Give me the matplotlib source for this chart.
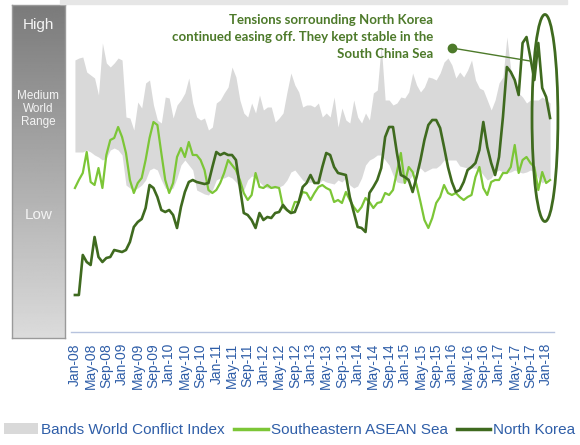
import numpy as np
import pandas as pd
import matplotlib
matplotlib.use("Agg")
import matplotlib.pyplot as plt
from matplotlib.patches import Ellipse, Rectangle, Patch
from matplotlib.lines import Line2D

# monthly index values, Jan-08 .. Feb-18
north_korea = [
    37, 37, 77, 70, 67, 95, 75, 70, 74, 75,
    82, 81, 80, 82, 90, 105, 110, 113, 124, 147,
    144, 135, 122, 120, 122, 117, 104, 125, 140, 150,
    152, 150, 149, 148, 149, 165, 180, 177, 179, 177,
    177, 172, 145, 119, 117, 112, 104, 119, 112, 115,
    114, 119, 120, 127, 122, 119, 120, 130, 145, 149,
    157, 149, 149, 165, 179, 177, 165, 159, 158, 157,
    135, 120, 105, 104, 100, 139, 145, 152, 164, 195,
    205, 205, 179, 157, 155, 152, 140, 155, 172, 192,
    207, 212, 212, 204, 185, 165, 150, 140, 142, 150,
    162, 165, 169, 182, 210, 185, 169, 157, 175, 215,
    265, 260, 252, 237, 289, 295, 274, 252, 289, 244,
    235, 214,
]
asean_sea = [
    144, 152, 159, 180, 150, 147, 164, 144, 177, 192,
    194, 205, 195, 179, 152, 139, 149, 154, 172, 194,
    210, 207, 179, 152, 139, 149, 175, 184, 175, 190,
    177, 177, 172, 162, 142, 139, 142, 149, 159, 172,
    167, 162, 152, 139, 132, 137, 159, 145, 144, 147,
    144, 145, 144, 125, 122, 119, 130, 130, 140, 139,
    132, 139, 145, 147, 144, 142, 130, 132, 129, 140,
    132, 125, 120, 125, 134, 130, 124, 129, 130, 139,
    137, 142, 160, 179, 149, 165, 160, 147, 130, 112,
    104, 114, 129, 135, 147, 139, 137, 139, 135, 132,
    135, 137, 155, 165, 144, 137, 150, 152, 152, 159,
    159, 165, 187, 159, 172, 175, 169, 165, 142, 160,
    149, 152,
]
band_high = [
    272, 274, 275, 260, 257, 254, 237, 289, 269, 265,
    269, 274, 272, 215, 214, 202, 230, 224, 249, 252,
    227, 212, 209, 235, 234, 214, 227, 232, 239, 254,
    229, 215, 212, 214, 202, 205, 229, 232, 239, 245,
    265, 255, 232, 219, 215, 229, 219, 237, 222, 225,
    225, 210, 214, 219, 240, 259, 247, 240, 225, 227,
    227, 225, 229, 215, 219, 215, 235, 205, 224, 212,
    209, 232, 215, 209, 219, 212, 239, 242, 287, 232,
    232, 227, 229, 235, 234, 240, 259, 247, 240, 245,
    255, 254, 252, 259, 270, 274, 267, 254, 260, 255,
    262, 272, 252, 244, 242, 232, 222, 232, 249, 255,
    295, 262, 252, 239, 235, 229, 232, 232, 232, 235,
    232, 229,
]
band_low = [
    180, 180, 180, 182, 180, 177, 175, 172, 174, 182,
    184, 182, 177, 147, 144, 142, 144, 147, 152, 162,
    164, 162, 152, 144, 142, 144, 154, 167, 172, 167,
    162, 142, 140, 138, 137, 142, 152, 154, 154, 156,
    154, 150, 144, 142, 152, 156, 155, 150, 146, 144,
    144, 144, 145, 147, 152, 160, 162, 157, 152, 149,
    150, 149, 148, 152, 150, 149, 148, 152, 150, 154,
    147, 144, 146, 154, 167, 172, 174, 177, 177, 172,
    167, 157, 150, 149, 149, 152, 157, 162, 164, 160,
    162, 164, 164, 167, 172, 172, 172, 172, 166, 165,
    164, 164, 164, 162, 157, 152, 154, 160, 162, 160,
    159, 160, 162, 160, 159, 160, 162, 160, 154, 149,
    152, 154,
]
months = pd.date_range("2008-01-01", periods=len(north_korea), freq="MS")
month_labels = [m.strftime("%b-%y") for m in months]

DARK = "#3f6a1f"
LIGHT = "#7cc637"
BAND = "#d9d9d9"
BLUE = "#2f5ea8"
NOTE = "#4d7a2a"

W, H = 580, 445
fig = plt.figure(figsize=(W / 100, H / 100), dpi=100)

# thin header strip at the top
fig.patches.append(Rectangle((60 / W, 1 - 4 / H), 507 / W, 4 / H,
                             transform=fig.transFigure, color="#e6e6e6", zorder=0))

# left gradient scale bar
bar = fig.add_axes([12 / W, 1 - 338 / H, 53 / W, 333 / H])
grad = np.linspace(0.48, 0.86, 256).reshape(-1, 1)
bar.imshow(grad, cmap="gray", vmin=0, vmax=1, aspect="auto", extent=(0, 1, 0, 1),
           origin="upper")
bar.set_xticks([])
bar.set_yticks([])
for s in bar.spines.values():
    s.set_color("#9a9a9a")
    s.set_linewidth(1)
bar.text(0.5, 1 - 20 / 333, "High", color="#f4f4f4", ha="center", va="center",
         fontsize=11, family="Liberation Sans", transform=bar.transAxes)
bar.text(0.5, 1 - 104 / 333, "Medium\nWorld\nRange", color="#f4f4f4", ha="center",
         va="center", fontsize=8.5, family="Liberation Sans", linespacing=1.1,
         transform=bar.transAxes)
bar.text(0.5, 1 - 210 / 333, "Low", color="#f4f4f4", ha="center", va="center",
         fontsize=11, family="Liberation Sans", transform=bar.transAxes)

# main chart
ax = fig.add_axes([71 / W, 1 - 332 / H, 483 / W, 332 / H])
x = np.arange(len(north_korea))
ax.fill_between(x, band_low, band_high, color=BAND, lw=0, zorder=1)
ax.plot(x, asean_sea, color=LIGHT, lw=1.6, zorder=3)
ax.plot(x, north_korea, color=DARK, lw=1.9, zorder=4)
ax.set_xlim(-1, 122)
ax.set_ylim(0, 332)
ax.set_yticks([])
ax.set_xticks(x[::4])
ax.set_xticklabels(month_labels[::4], rotation=90, fontsize=10,
                   family="Liberation Sans", color=BLUE)
ax.tick_params(axis="x", length=0, pad=8)
for side in ["top", "right", "left"]:
    ax.spines[side].set_visible(False)
ax.spines["bottom"].set_color("#b7c3de")
ax.spines["bottom"].set_linewidth(1)

# annotation
ax.text(91.2, 295, "Tensions sorrounding North Korea\ncontinued easing off. They kept stable in the\nSouth China Sea",
        ha="right", va="center", fontsize=9.5, family="Lato", weight="bold",
        color=NOTE, linespacing=1.45, zorder=5)
ax.plot([96.0, 115.9], [284, 271], color=NOTE, lw=1, zorder=5)
ax.plot([96.0], [284], "o", color=NOTE, ms=6, zorder=5)
ax.add_patch(Ellipse((119.7, 214), 6.6, 207, fill=False, ec=DARK, lw=2, zorder=6,
                     clip_on=False))

handles = [
    Patch(facecolor=BAND, edgecolor="none"),
    Line2D([], [], color=LIGHT, lw=2.5),
    Line2D([], [], color=DARK, lw=2.5),
]
labels = ["Bands World Conflict Index", "Southeastern ASEAN Sea", "North Korea"]
leg = fig.legend(handles, labels, loc="center", bbox_to_anchor=(0.5, 1 - 430 / H),
                 ncol=3, frameon=False, handlelength=2.2, handletextpad=0.2,
                 columnspacing=0.6, prop={"family": "Liberation Sans", "size": 11})
for t in leg.get_texts():
    t.set_color(BLUE)

fig.savefig("out.png", dpi=100)
